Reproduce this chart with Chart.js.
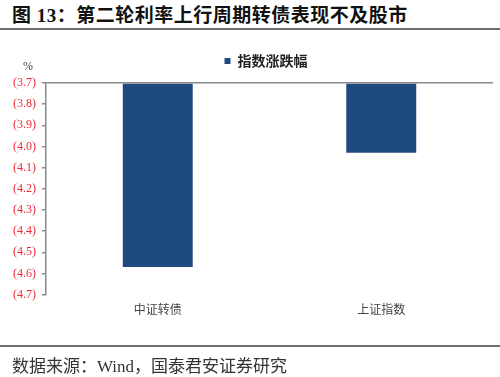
<!DOCTYPE html>
<html>
<head>
<meta charset="utf-8">
<script src="https://cdn.jsdelivr.net/npm/chart.js@4"></script>
<style>
  body { margin: 0; background: #fff; }
  #page { position: relative; width: 500px; height: 377px; overflow: hidden; }
  #title { position: absolute; left: 12px; top: 0; height: 30px; line-height: 30px; letter-spacing: 0.5px;
    font: bold 19px "Liberation Serif", "Noto Sans CJK SC"; color: #111; white-space: nowrap; }
  .rule { position: absolute; left: 0; width: 500px; height: 2px; background: #6e6e6e; }
  #unit { position: absolute; left: 23px; top: 59px; font: 12px "Liberation Serif"; color: #444; }
  #source { position: absolute; left: 12px; top: 352px; line-height: 20px;
    font: 17px "Liberation Serif", "Noto Sans CJK SC"; color: #333; white-space: nowrap; }
  #wrap { position: absolute; left: 0; top: 0; width: 500px; height: 377px; }
</style>
</head>
<body>
<div id="page">
  <div id="title">图 13：第二轮利率上行周期转债表现不及股市</div>
  <div class="rule" style="top:28px"></div>
  <div id="wrap"><canvas id="myChart"></canvas></div>
  <div id="unit">%</div>
  <div class="rule" style="top:345px"></div>
  <div id="source">数据来源：Wind，国泰君安证券研究</div>
</div>
<script>
// categories
const categories = ["中证转债", "上证指数"];
// index change, %
const changes = [-4.57, -4.03];
// y axis range / ticks
const yMin = -4.7;
const yMax = -3.7;
const yStep = 0.1;

const barBlue = "#1f4a80";
const axisGray = "#8a8a8a";
const tickRed = "#ee2a36";

// legend sits a bit right of the canvas centre in the original
const legendShift = {
  id: "legendShift",
  afterLayout(chart) {
    chart.legend.left += 15.5;
    chart.legend.right += 15.5;
  },
};

const data = {
  labels: categories,
  datasets: [
    {
      label: "指数涨跌幅",
      data: changes,
      backgroundColor: barBlue,
      borderWidth: 0,
      // hang bars from the top of the axis
      base: yMax,
      barPercentage: 0.313,
      categoryPercentage: 1,
    },
  ],
};

const config = {
  type: "bar",
  data: data,
  options: {
    responsive: true,
    maintainAspectRatio: false,
    animation: false,
    layout: {
      padding: { top: 44, left: 8, right: 7, bottom: 60 },
    },
    plugins: {
      legend: {
        position: "top",
        labels: {
          boxWidth: 6,
          boxHeight: 6,
          padding: 10,
          color: "#222",
          font: { family: '"Noto Sans CJK SC"', size: 14, weight: "bold" },
        },
      },
      tooltip: { enabled: false },
    },
    scales: {
      x: {
        grid: { display: false },
        border: { display: false },
        ticks: {
          padding: 0,
          color: "#444",
          font: { family: '"Noto Sans CJK SC"', size: 12 },
        },
      },
      // spacer between legend and plot
      x2: {
        type: "category",
        position: "top",
        grid: { display: true, drawOnChartArea: false, tickLength: 5, tickColor: "rgba(0,0,0,0)" },
        border: { display: false },
        ticks: { display: false },
      },
      y: {
        min: yMin,
        max: yMax,
        afterFit: function (scale) {
          scale.width = 38;
        },
        ticks: {
          stepSize: yStep,
          padding: 6,
          color: function () {
            return tickRed;
          },
          font: { family: '"Liberation Serif"', size: 12 },
          callback: function (value) {
            return "(" + Math.abs(value).toFixed(1) + ")";
          },
        },
        grid: {
          // only the line at the top of the range is drawn
          color: function (ctx) {
            return ctx.tick && Math.abs(ctx.tick.value - yMax) < 1e-6 ? axisGray : "rgba(0,0,0,0)";
          },
          tickColor: axisGray,
          tickLength: 4,
          lineWidth: 1.5,
        },
        border: { display: true, color: axisGray, width: 1.5 },
      },
    },
  },
  plugins: [legendShift],
};

const myChart = new Chart(document.getElementById("myChart"), config);
</script>
</body>
</html>
